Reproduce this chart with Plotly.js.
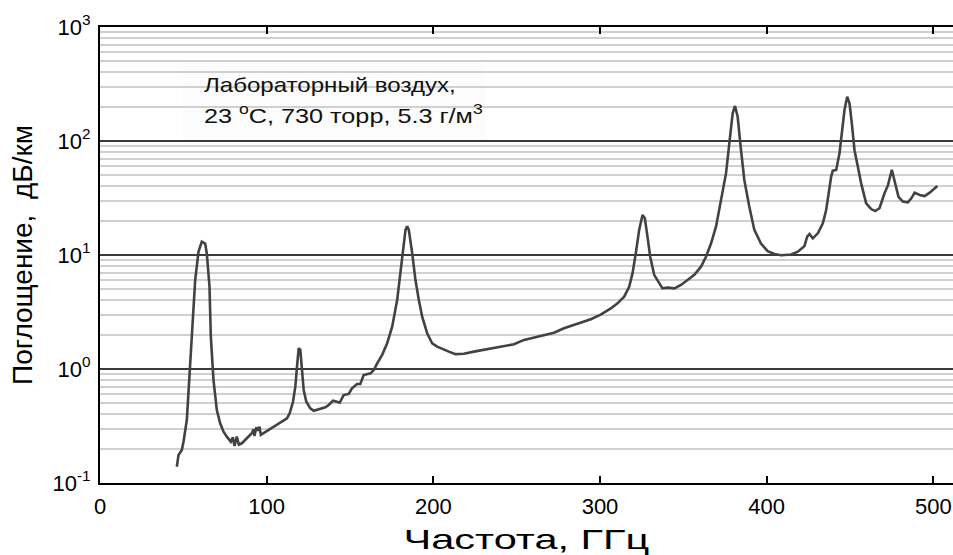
<!DOCTYPE html>
<html>
<head>
<meta charset="utf-8">
<script src="https://cdn.plot.ly/plotly-3.0.1.min.js"></script>
<style>html,body{margin:0;padding:0;background:#fff;}#chart{width:953px;height:555px;}</style>
</head>
<body>
<div id="chart"></div>
<script>
const freqGHz = [46.1,47.1,49.1,50.1,52.1,54.1,56.1,57.1,59.1,61.1,63.1,64.1,65.7,66.5,68.1,70.1,72.1,74.1,76.1,77.1,78.5,79.7,80.7,82.1,83.3,85.1,87.1,89.1,91.1,92.1,92.7,93.8,94.7,95.7,96.5,112.2,113.8,115.8,117.2,118.2,119.2,120.2,121.2,122.2,123.8,126.2,128.2,131.2,135.2,137.2,139.8,142.2,143.8,146.2,149.2,151.2,154.2,156.2,158.2,162.3,164.3,166.3,169.3,172.3,175.3,178.3,180.3,181.7,183.3,184.3,185.3,187.3,189.3,191.3,193.3,196.3,199.3,202.3,206.3,209.3,213.3,218.3,224.3,230.3,236.4,242.4,248.4,254.4,260.4,266.4,272.4,278.4,284.4,290.4,294.5,300.4,306.5,310.5,314.5,317.5,319.5,321.5,323.5,325.5,326.9,328.5,330.1,332.5,335.5,337.5,340.6,344.6,348.6,352.6,356.6,360.6,363.6,366.6,369.6,372.6,375.6,377.6,379.6,381,382.6,384.6,386.6,389.6,392.6,396.6,400.6,404.6,408.7,414.7,418.7,422.7,424.3,425.7,427.7,430.7,433.7,435.7,437.1,438.7,439.7,441.7,443.7,445.1,446.7,448.3,449.7,451.1,452.7,454.7,456.7,459.7,462.7,465.1,467.7,470.7,472.8,475.1,477.1,479.1,481.7,484.7,486.8,488.8,491.8,494.8,497.8,500.8,502.4];
const absorptionDbKm = [0.139,0.176,0.195,0.23,0.357,1.05,3.08,6.0,10.7,13.1,12.6,10.3,5.27,1.92,0.80,0.436,0.334,0.282,0.255,0.246,0.230,0.252,0.211,0.255,0.217,0.223,0.238,0.255,0.273,0.296,0.258,0.308,0.288,0.312,0.264,0.369,0.408,0.516,0.70,1.05,1.52,1.47,1.05,0.655,0.516,0.452,0.43,0.443,0.461,0.483,0.527,0.516,0.506,0.591,0.604,0.677,0.738,0.738,0.885,0.916,0.98,1.12,1.33,1.68,2.35,4.03,6.9,11.1,16.6,17.9,16.6,10.4,6.0,4.03,2.88,2.06,1.68,1.57,1.47,1.42,1.35,1.36,1.42,1.47,1.52,1.59,1.65,1.80,1.88,1.99,2.08,2.28,2.43,2.60,2.73,3.0,3.40,3.77,4.31,5.27,6.9,10.4,16.6,22.4,21.0,14.5,9.7,6.7,5.65,5.1,5.17,5.1,5.46,6.04,6.7,7.9,9.66,12.6,17.7,30.3,52,95.5,175,203,163,83,45.5,26.5,16.6,12.6,10.8,10.2,9.94,10.1,10.7,12.0,14.5,15.3,14.0,15.5,19.0,24.8,34.8,48.7,55,55.7,78,117,187,245,214,143,83,59.6,42.5,28.4,25.3,24.3,25.7,34.8,41,56,42.5,32.4,29.4,29.0,31.4,35.2,33.6,32.9,35.2,38.5,40.3];
const xTickVals = [0,100,200,300,400,500];
const yTickVals = [0.1,1,10,100,1000];
const yTickText = ['10<sup>-1</sup>','10<sup>0</sup>','10<sup>1</sup>','10<sup>2</sup>','10<sup>3</sup>'];
const xTitle = 'Частота, ГГц';
const yTitle = 'Поглощение,  дБ/км';
const noteLines = ['Лабораторный воздух,', '23 <sup>o</sup>C, 730 торр, 5.3 г/м<sup>3</sup>'];

const font = 'Liberation Sans, Arial, sans-serif';
const trace = {
  x: freqGHz, y: absorptionDbKm, type: 'scatter', mode: 'lines',
  line: {color: '#424242', width: 2.6}, hoverinfo: 'skip'
};
const layout = {
  width: 953, height: 555,
  margin: {l: 100, r: 0, t: 27, b: 72},
  paper_bgcolor: '#ffffff', plot_bgcolor: '#ffffff',
  showlegend: false,
  font: {family: font, color: '#000', size: 22},
  xaxis: {
    range: [0, 511.8], tickvals: xTickVals, ticktext: xTickVals.map(String),
    ticks: 'inside', ticklen: 7, tickwidth: 2, tickcolor: '#000',
    showline: true, linecolor: '#000', linewidth: 2, mirror: 'ticks',
    showgrid: false, zeroline: false, ticklabelstandoff: 3,
    tickfont: {size: 22, family: font},
    title: {text: xTitle, font: {size: 27, family: font}, standoff: 12}
  },
  yaxis: {
    type: 'log', range: [-1, 3], tickvals: yTickVals, ticktext: yTickText,
    ticks: '', showline: true, linecolor: '#000', linewidth: 2,
    showgrid: true, gridcolor: '#3a3a3a', gridwidth: 1.5, zeroline: false,
    ticklabelstandoff: 3,
    minor: {dtick: 'D1', showgrid: true, gridcolor: '#d0d0d0', gridwidth: 2, ticks: ''},
    tickfont: {size: 22, family: font},
    title: {text: yTitle, font: {size: 28, family: font}, standoff: 12}
  },
  shapes: [{
    type: 'rect', xref: 'paper', yref: 'paper', layer: 'below',
    x0: (183-100)/853, x1: (485-100)/853, y0: (483-138)/456, y1: (483-62)/456,
    fillcolor: '#fcfcfc', line: {width: 0}
  }],
  annotations: [
    {xref: 'paper', yref: 'paper', x: (202-100)/853, y: (483-85)/456,
     xanchor: 'left', yanchor: 'middle', align: 'left', showarrow: false,
     text: noteLines[0], font: {size: 21, family: font, color: '#111'}},
    {xref: 'paper', yref: 'paper', x: (202-100)/853, y: (483-114)/456,
     xanchor: 'left', yanchor: 'middle', align: 'left', showarrow: false,
     text: noteLines[1], font: {size: 21, family: font, color: '#111'}}
  ]
};

function stretchX(el, targetWidth, pivot) {
  if (!el) return;
  const bb = el.getBBox();
  if (!bb.width) return;
  const s = targetWidth / bb.width;
  const px = pivot === 'left' ? bb.x : bb.x + bb.width / 2;
  const prev = el.getAttribute('transform') || '';
  el.setAttribute('transform', (prev + ' translate(' + px + ',0) scale(' + s + ',1) translate(' + (-px) + ',0)').trim());
}

Plotly.newPlot('chart', [trace], layout, {staticPlot: true, displayModeBar: false}).then(function (gd) {
  stretchX(gd.querySelector('.g-xtitle text'), 246, 'center');
  const ann = gd.querySelectorAll('.annotation-text-g text');
  stretchX(ann[0], 252, 'left');
  stretchX(ann[1], 279, 'left');
});
</script>
</body>
</html>
